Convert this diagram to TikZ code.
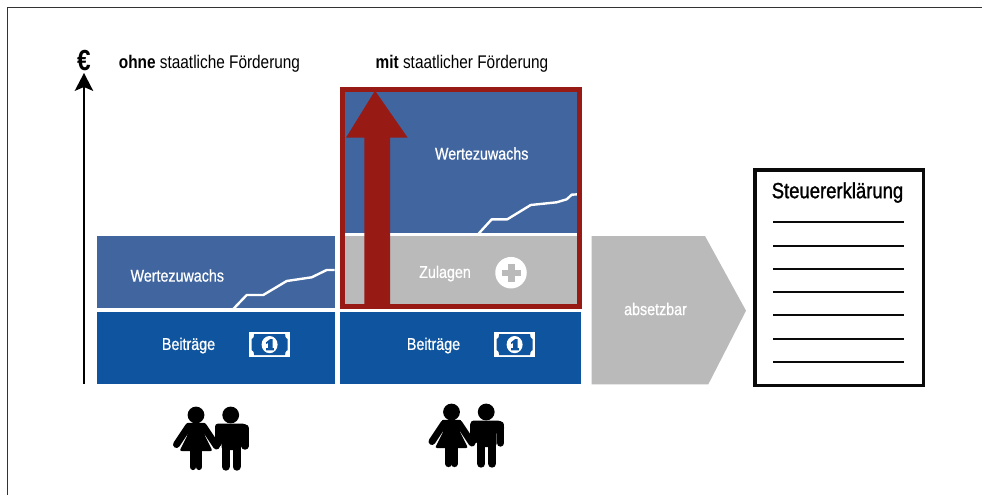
\documentclass[tikz,border=0pt]{standalone}
\usepackage{fontspec}
\setmainfont[FakeStretch=0.84]{Liberation Sans}
\newfontfamily\medfont[FakeStretch=0.84,FakeBold=0.8]{Liberation Sans}
\newfontfamily\titlefont[FakeStretch=0.84,FakeBold=1.2]{Liberation Sans}
\usetikzlibrary{calc}
\definecolor{lightblue}{HTML}{41659F}
\definecolor{deepblue}{HTML}{0E549F}
\definecolor{panelgray}{HTML}{BABABA}
\definecolor{darkred}{HTML}{971A14}
\definecolor{inkblack}{HTML}{0A0A0A}
\tikzset{
  lbl/.style={text=white,font=\medfont\fontsize{17}{19}\selectfont,inner sep=0pt,anchor=center},
  head/.style={text=black,font=\fontsize{18.3}{20}\selectfont,inner sep=0pt,anchor=center},
  curve/.style={draw=white,line width=2.4pt,line join=round},
  doc line/.style={draw=inkblack,line width=2pt},
  money/.pic={
    \fill[white] (-20.3,-12.8) rectangle (20.3,12.8);
    \fill[deepblue] (-15.5,-10.4) -- (15.5,-10.4) .. controls (15.5,-7) and (17,-5.5) .. (18,-5.5)
      -- (18,5.5) .. controls (17,5.5) and (15.5,7) .. (15.5,10.4) -- (-15.5,10.4)
      .. controls (-15.5,7) and (-17,5.5) .. (-18,5.5) -- (-18,-5.5) .. controls (-17,-5.5) and (-15.5,-7) .. (-15.5,-10.4) -- cycle;
    \fill[white] (0,0) ellipse (8 and 8.6);
    \fill[deepblue] (-3.4,-2.4) -- (0.7,-5.6) -- (2.9,-5.6) -- (2.9,3.4) -- (4.2,3.4) -- (4.2,5.8) -- (-3.6,5.8) -- (-3.6,3.4) -- (-1.6,3.4) -- (-1.6,-1.6) -- (-3.4,-0.6) -- cycle;
  },
  couple/.pic={
    % woman
    \fill[black] (196,415) circle (8.4);
    \fill[black,rounded corners=2pt] (186,422.8) -- (206,422.8) -- (204,434) -- (212.6,451) -- (179.6,451) -- (188,434) -- cycle;
    \draw[black,line width=7pt,line cap=round] (188.5,426.5) -- (176.5,444.5);
    \draw[black,line width=7pt,line cap=round] (203.5,426.5) -- (216.5,446);
    \draw[black,line width=6.2pt,line cap=round] (193,450) -- (193,467);
    \draw[black,line width=6.2pt,line cap=round] (199,450) -- (199,467);
    % man
    \fill[black] (230.7,415) circle (8.4);
    \fill[black,rounded corners=3pt] (215,423.6) -- (245.5,423.6) -- (248.6,428) -- (248.6,434) -- (241,434) -- (241,450) -- (221.5,450) -- (221.5,434) -- (215,434) -- cycle;
    \draw[black,line width=7.4pt,line cap=round] (244.9,428) -- (244.9,446);
    \draw[black,line width=7.4pt,line cap=round] (218.5,428) -- (218.5,443);
    \draw[black,line width=8.2pt,line cap=round] (225.7,445) -- (225.7,466.6);
    \draw[black,line width=8.2pt,line cap=round] (236.6,445) -- (236.6,466.6);
  }
}
\begin{document}
\begin{tikzpicture}[x=1pt,y=-1pt]
\useasboundingbox (0,0) rectangle (982,495);
\fill[white] (0,0) rectangle (982,495);
% page edges
\draw[draw=black!80,line width=1pt] (7.5,495) -- (7.5,8) -- (982,8);

% axis
\coordinate (axisbottom) at (84,383.5);
\coordinate (axistip) at (84,73);
\draw[black,line width=2.2pt] (axisbottom) -- (84,85);
\fill[black] (axistip) -- (93.3,91) -- (84,87) -- (74.6,91) -- cycle;
\node[inner sep=0pt,font=\bfseries\fontsize{29}{29}\selectfont] (euro) at (84,60.5) {€};

% headings
\node[head] (h1) at (209.5,63.5) {\textbf{ohne} staatliche Förderung};
\node[head] (h2) at (462,63.5) {\textbf{mit} staatlicher Förderung};

% left column
\fill[lightblue] (97,235.7) rectangle (334.7,308.3);
\fill[deepblue] (97,311.8) rectangle (334.7,384.3);
\draw[curve] (233.3,309) -- (246.7,295) -- (263.3,295) -- (286.7,281) -- (311.7,277.3) -- (326.7,270) -- (334.7,270);
\node[lbl] (w1) at (177.3,275.5) {Wertezuwachs};
\node[lbl] (b1) at (188.5,345.5) {Beiträge};
\pic at (269.6,344.6) {money};

% middle column
\fill[deepblue] (340.3,311.8) rectangle (581,384.3);
\fill[lightblue] (342,89.5) rectangle (580,233);
\fill[panelgray] (342,235.7) rectangle (580,306.5);
\fill[white] (342,233) rectangle (580,235.7);
\draw[curve] (478.3,234) -- (491.7,219.3) -- (507.3,219.3) -- (530.7,205) -- (556.7,202.3) -- (566.7,199.3) -- (571.7,194.7) -- (578,194.3);
\node[lbl] (w2) at (481.7,153.5) {Wertezuwachs};
\node[lbl] (z) at (445,273.5) {Zulagen};
\node[circle,fill=white,minimum size=31.5pt,inner sep=0pt] (plus) at (511,272.7) {};
\fill[panelgray] (508,263.5) rectangle (514.5,281.5);
\fill[panelgray] (502,269.5) rectangle (520.5,276);
\node[lbl] (b2) at (433.5,345.5) {Beiträge};
\pic at (514.6,344.6) {money};
\fill[darkred] (375,90.7) -- (407.7,137.7) -- (390,137.7) -- (390,306.7) -- (364.3,306.7) -- (364.3,137.7) -- (346,137.7) -- cycle;
\draw[draw=darkred,line width=4.4pt,line join=miter] (342.3,89.6) rectangle (579.5,306.5);

% chevron
\fill[panelgray] (591.7,236) -- (705,236) -- (746,310.7) -- (708.3,384.3) -- (591.7,384.3) -- cycle;
\node[lbl] (abs) at (655.5,309) {absetzbar};

% tax form
\draw[draw=inkblack,fill=white,line width=3.8pt,line join=miter] (755.2,170.2) rectangle (923.4,385.4);
\node[inner sep=0pt,font=\titlefont\fontsize{22}{24}\selectfont,text=black] (st) at (837.5,192.5) {Steuererklärung};
\foreach \yy in {222.3,245.6,268.9,292.2,315.3,338.6,361.7}{
  \draw[doc line] (773.3,\yy) -- (904,\yy);
}

% couples
\pic at (0,0) {couple};
\pic at (255.5,-3) {couple};
\end{tikzpicture}
\end{document}
